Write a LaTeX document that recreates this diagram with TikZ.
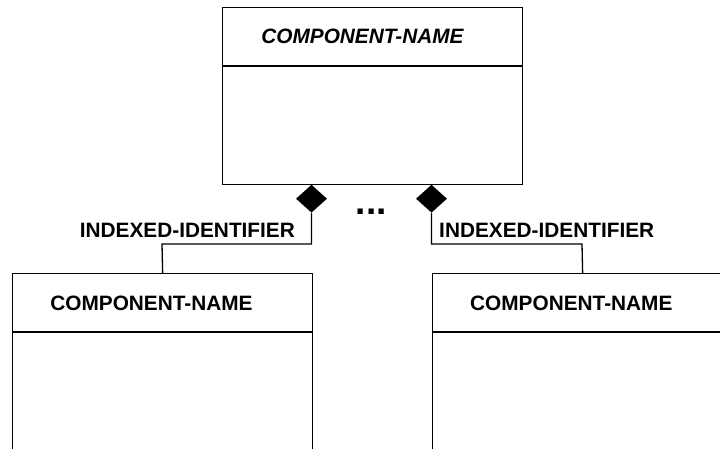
\documentclass[tikz,border=0pt]{standalone}
\usepackage{fontspec}
\setmainfont{Liberation Sans}
\usetikzlibrary{shapes.geometric}
\tikzset{
  box/.style={draw=black, line width=1.3pt, anchor=north west, minimum width=300pt, inner sep=0pt},
  comp/.style={diamond, fill=black, draw=none, minimum width=31pt, minimum height=28pt, inner sep=0pt, anchor=north},
  conn/.style={draw=black, line width=1.3pt},
  divline/.style={draw=black, line width=1.3pt},
  lbl/.style={font=\fontsize{20.8}{24}\selectfont\bfseries, anchor=base, inner sep=0pt},
  title/.style={font=\fontsize{20.8}{24}\selectfont\bfseries, anchor=base, inner sep=0pt},
}
\begin{document}
\begin{tikzpicture}[x=1pt, y=-1pt]
\useasboundingbox (0,0) rectangle (720,448);
\clip (0,0) rectangle (720,448);
% top component
\node[box, minimum height=177pt] (top) at (222,7) {};
\draw[divline] (222,66) -- (522,66);
\node[title, font=\fontsize{20.8}{24}\selectfont\bfseries\itshape] (ttop) at (362.5,43.3) {COMPONENT-NAME};
% bottom components
\node[box, minimum height=200pt] (bl) at (12,273) {};
\draw[divline] (12,332) -- (312,332);
\node[title] (tbl) at (151.5,310.7) {COMPONENT-NAME};
\node[box, minimum height=200pt] (br) at (432,273) {};
\draw[divline] (432,332) -- (732,332);
\node[title] (tbr) at (571.3,310.7) {COMPONENT-NAME};
% composition diamonds
\node[comp] (dl) at (311.5,184.5) {};
\node[comp] (dr) at (431.5,184.5) {};
% connectors
\coordinate (kl) at (162,244);
\coordinate (kr) at (582,244);
\draw[conn] (dl.south) |- (kl) -- (bl.north);
\draw[conn] (dr.south) |- (kr) -- (br.north);
% labels
\node[lbl] (ll) at (187.4,237.3) {INDEXED-IDENTIFIER};
\node[lbl] (lr) at (546.7,237.3) {INDEXED-IDENTIFIER};
\node[font=\fontsize{37}{40}\selectfont\bfseries, anchor=base, inner sep=0pt] (dots) at (371.3,214) {...};
\end{tikzpicture}
\end{document}
